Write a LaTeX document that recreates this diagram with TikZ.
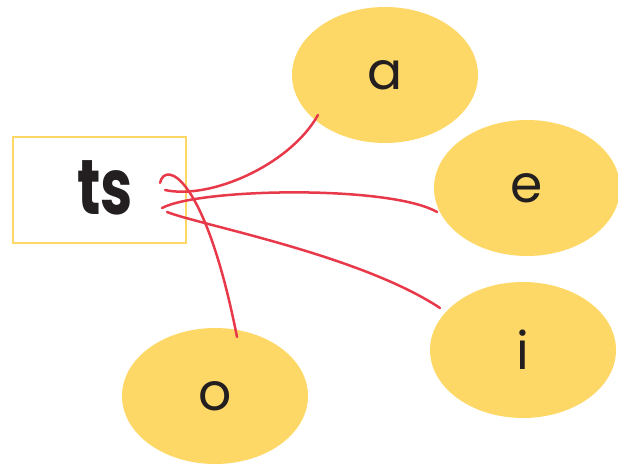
\documentclass[tikz,border=0pt]{standalone}
\usepackage{fontspec}
\setmainfont{Poppins}
\usetikzlibrary{shapes.geometric}
\definecolor{yel}{HTML}{FDD866}
\definecolor{lnk}{HTML}{E8394A}
\definecolor{ink}{HTML}{231F20}
\begin{document}
\begin{tikzpicture}[x=1pt,y=-1pt,
  vowel/.style={ellipse,fill=yel,draw=none,minimum width=186pt,minimum height=136pt,inner sep=0pt,text=ink,font=\fontsize{52}{52}\selectfont},
  link/.style={draw=lnk,line width=2.5pt,line cap=round}]
\useasboundingbox (0,0) rectangle (618,465);
\node[draw=yel,line width=2.2pt,minimum width=173pt,minimum height=106pt,inner sep=0pt] (ts) at (99.5,190) {};
\node[text=ink,inner sep=0pt] (tstext) at (105,188) {\scalebox{0.78}[1.05]{\fontsize{74}{74}\selectfont\bfseries ts}};
\node[vowel] (a) at (385,75) {a};
\node[vowel] (e) at (527,188) {e};
\node[vowel] (i) at (523,350) {i};
\node[vowel] (o) at (215,396) {o};
\coordinate (sa) at (165,190);
\coordinate (se) at (162,208);
\coordinate (si) at (167,212);
\coordinate (so) at (160,183);
\coordinate (ea) at (318,115);
\coordinate (ee) at (437,212);
\coordinate (ei) at (440,308);
\coordinate (eo) at (237,337);
\draw[link] (sa) .. controls (210,200) and (290,165) .. (ea);
\draw[link] (se) .. controls (200,188) and (390,185) .. (ee);
\draw[link] (si) .. controls (200,225) and (360,255) .. (ei);
\draw[link] (so) .. controls (165,160) and (205,175) .. (eo);
\end{tikzpicture}
\end{document}
